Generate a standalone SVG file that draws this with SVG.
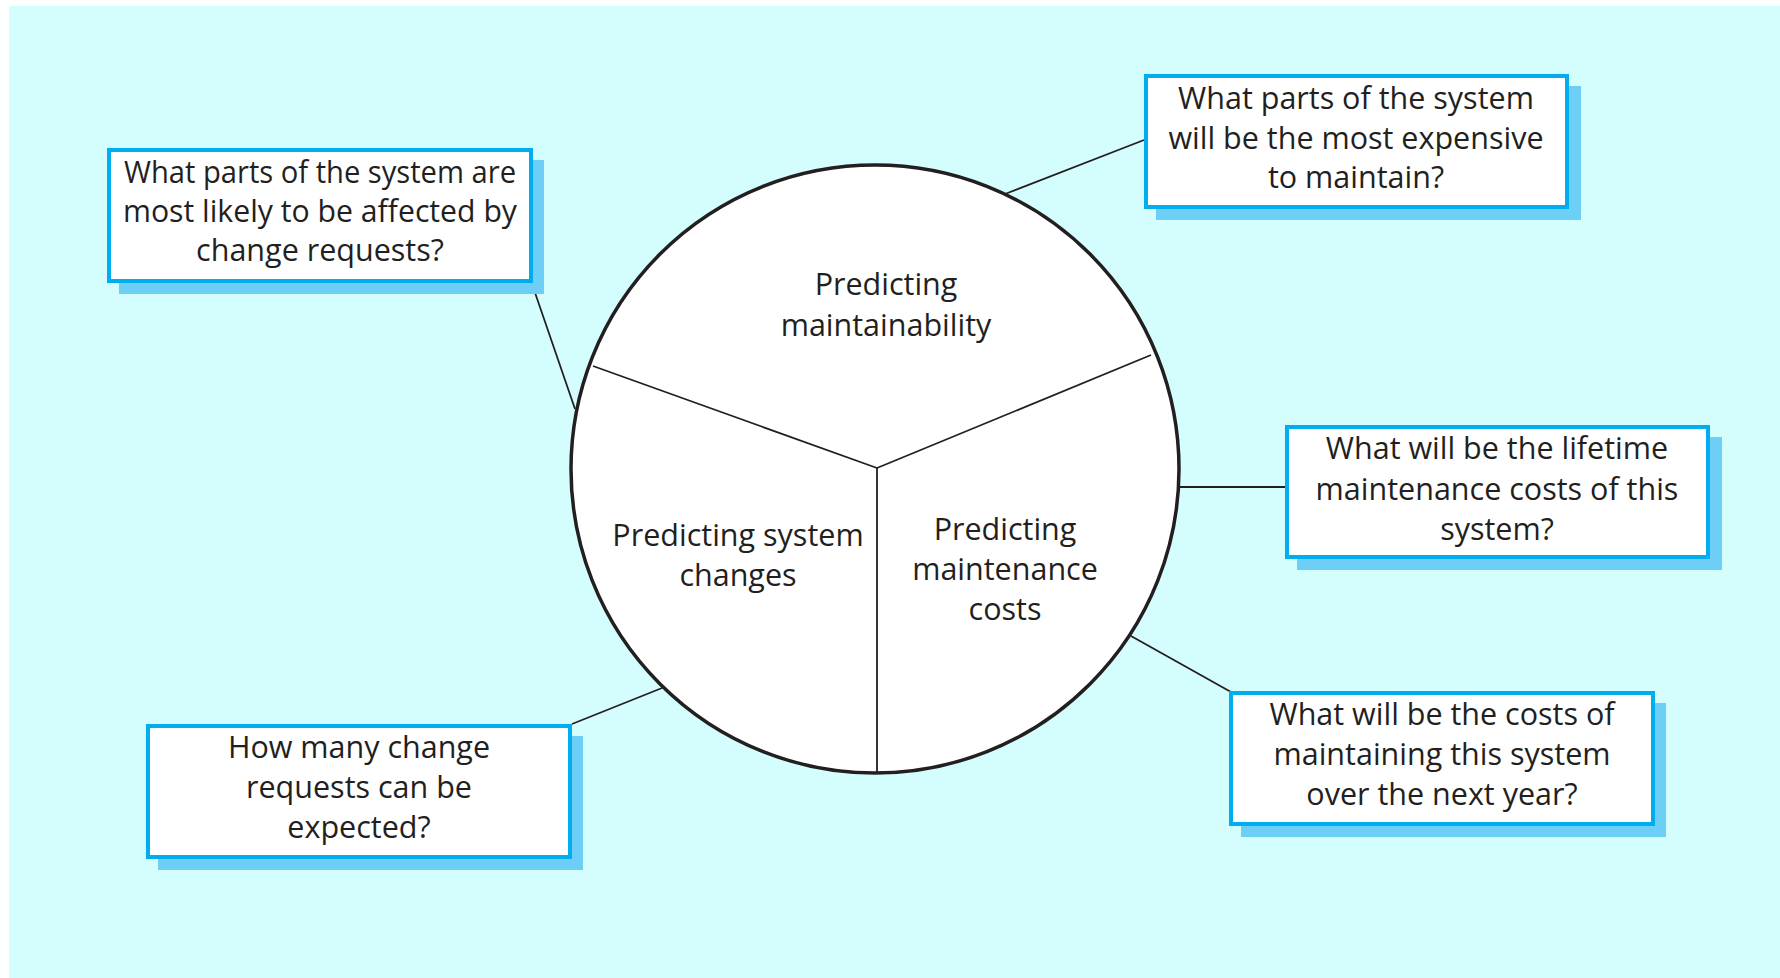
<svg xmlns="http://www.w3.org/2000/svg" width="1780" height="978" viewBox="0 0 1780 978">
<style>
.bg{fill:#D4FDFD}
.box{fill:#FFFFFF;stroke:#00AEEF;stroke-width:4}
.shadow{fill:#6DCFF6}
.t{font-family:"Open Sans","Noto Sans","Liberation Sans",sans-serif;font-size:30.5px;fill:#231F20;text-anchor:middle}
.ln{stroke:#231F20;stroke-width:1.8;fill:none}
.circ{fill:#FFFFFF;stroke:#231F20;stroke-width:3.5}
</style>
<rect x="0" y="0" width="1780" height="978" fill="#FFFFFF"/>
<rect class="bg" x="9" y="6" width="1771" height="972"/>
<g id="connectors">
<line class="ln" x1="531" y1="281" x2="575" y2="409"/>
<line class="ln" x1="1005" y1="194" x2="1144" y2="140"/>
<line class="ln" x1="1180" y1="487" x2="1286" y2="487"/>
<line class="ln" x1="1131" y1="636" x2="1231" y2="692"/>
<line class="ln" x1="662" y1="688" x2="572" y2="724"/>
</g>
<g id="circle">
<circle class="circ" cx="875" cy="469" r="304"/>
<line class="ln" x1="593" y1="366" x2="877" y2="468"/>
<line class="ln" x1="1151" y1="355" x2="877" y2="468"/>
<line class="ln" x1="877" y1="468" x2="877" y2="772"/>
</g>
<g id="seg-maintainability">
<text class="t" x="886" y="295">Predicting</text>
<text class="t" x="886" y="336">maintainability</text>
</g>
<g id="seg-changes">
<text class="t" x="738" y="546">Predicting system</text>
<text class="t" x="738" y="586">changes</text>
</g>
<g id="seg-costs">
<text class="t" x="1005" y="540">Predicting</text>
<text class="t" x="1005" y="580">maintenance</text>
<text class="t" x="1005" y="620">costs</text>
</g>
<g id="q-affected">
<rect class="shadow" x="119" y="160" width="425" height="134"/>
<rect class="box" x="109" y="150" width="422" height="131"/>
<text class="t" x="320" y="183" textLength="392" lengthAdjust="spacingAndGlyphs">What parts of the system are</text>
<text class="t" x="320" y="222" textLength="394" lengthAdjust="spacingAndGlyphs">most likely to be affected by</text>
<text class="t" x="320" y="261">change requests?</text>
</g>
<g id="q-expensive">
<rect class="shadow" x="1156" y="86" width="425" height="134"/>
<rect class="box" x="1146" y="76" width="421" height="131"/>
<text class="t" x="1356" y="109">What parts of the system</text>
<text class="t" x="1356" y="149">will be the most expensive</text>
<text class="t" x="1356" y="188">to maintain?</text>
</g>
<g id="q-lifetime">
<rect class="shadow" x="1297" y="437" width="425" height="133"/>
<rect class="box" x="1287" y="427" width="421" height="130"/>
<text class="t" x="1497" y="459">What will be the lifetime</text>
<text class="t" x="1497" y="500">maintenance costs of this</text>
<text class="t" x="1497" y="540">system?</text>
</g>
<g id="q-nextyear">
<rect class="shadow" x="1241" y="703" width="425" height="134"/>
<rect class="box" x="1231" y="693" width="422" height="131"/>
<text class="t" x="1442" y="725">What will be the costs of</text>
<text class="t" x="1442" y="765">maintaining this system</text>
<text class="t" x="1442" y="805">over the next year?</text>
</g>
<g id="q-howmany">
<rect class="shadow" x="158" y="736" width="425" height="134"/>
<rect class="box" x="148" y="726" width="422" height="131"/>
<text class="t" x="359" y="758">How many change</text>
<text class="t" x="359" y="798">requests can be</text>
<text class="t" x="359" y="838">expected?</text>
</g>
</svg>
